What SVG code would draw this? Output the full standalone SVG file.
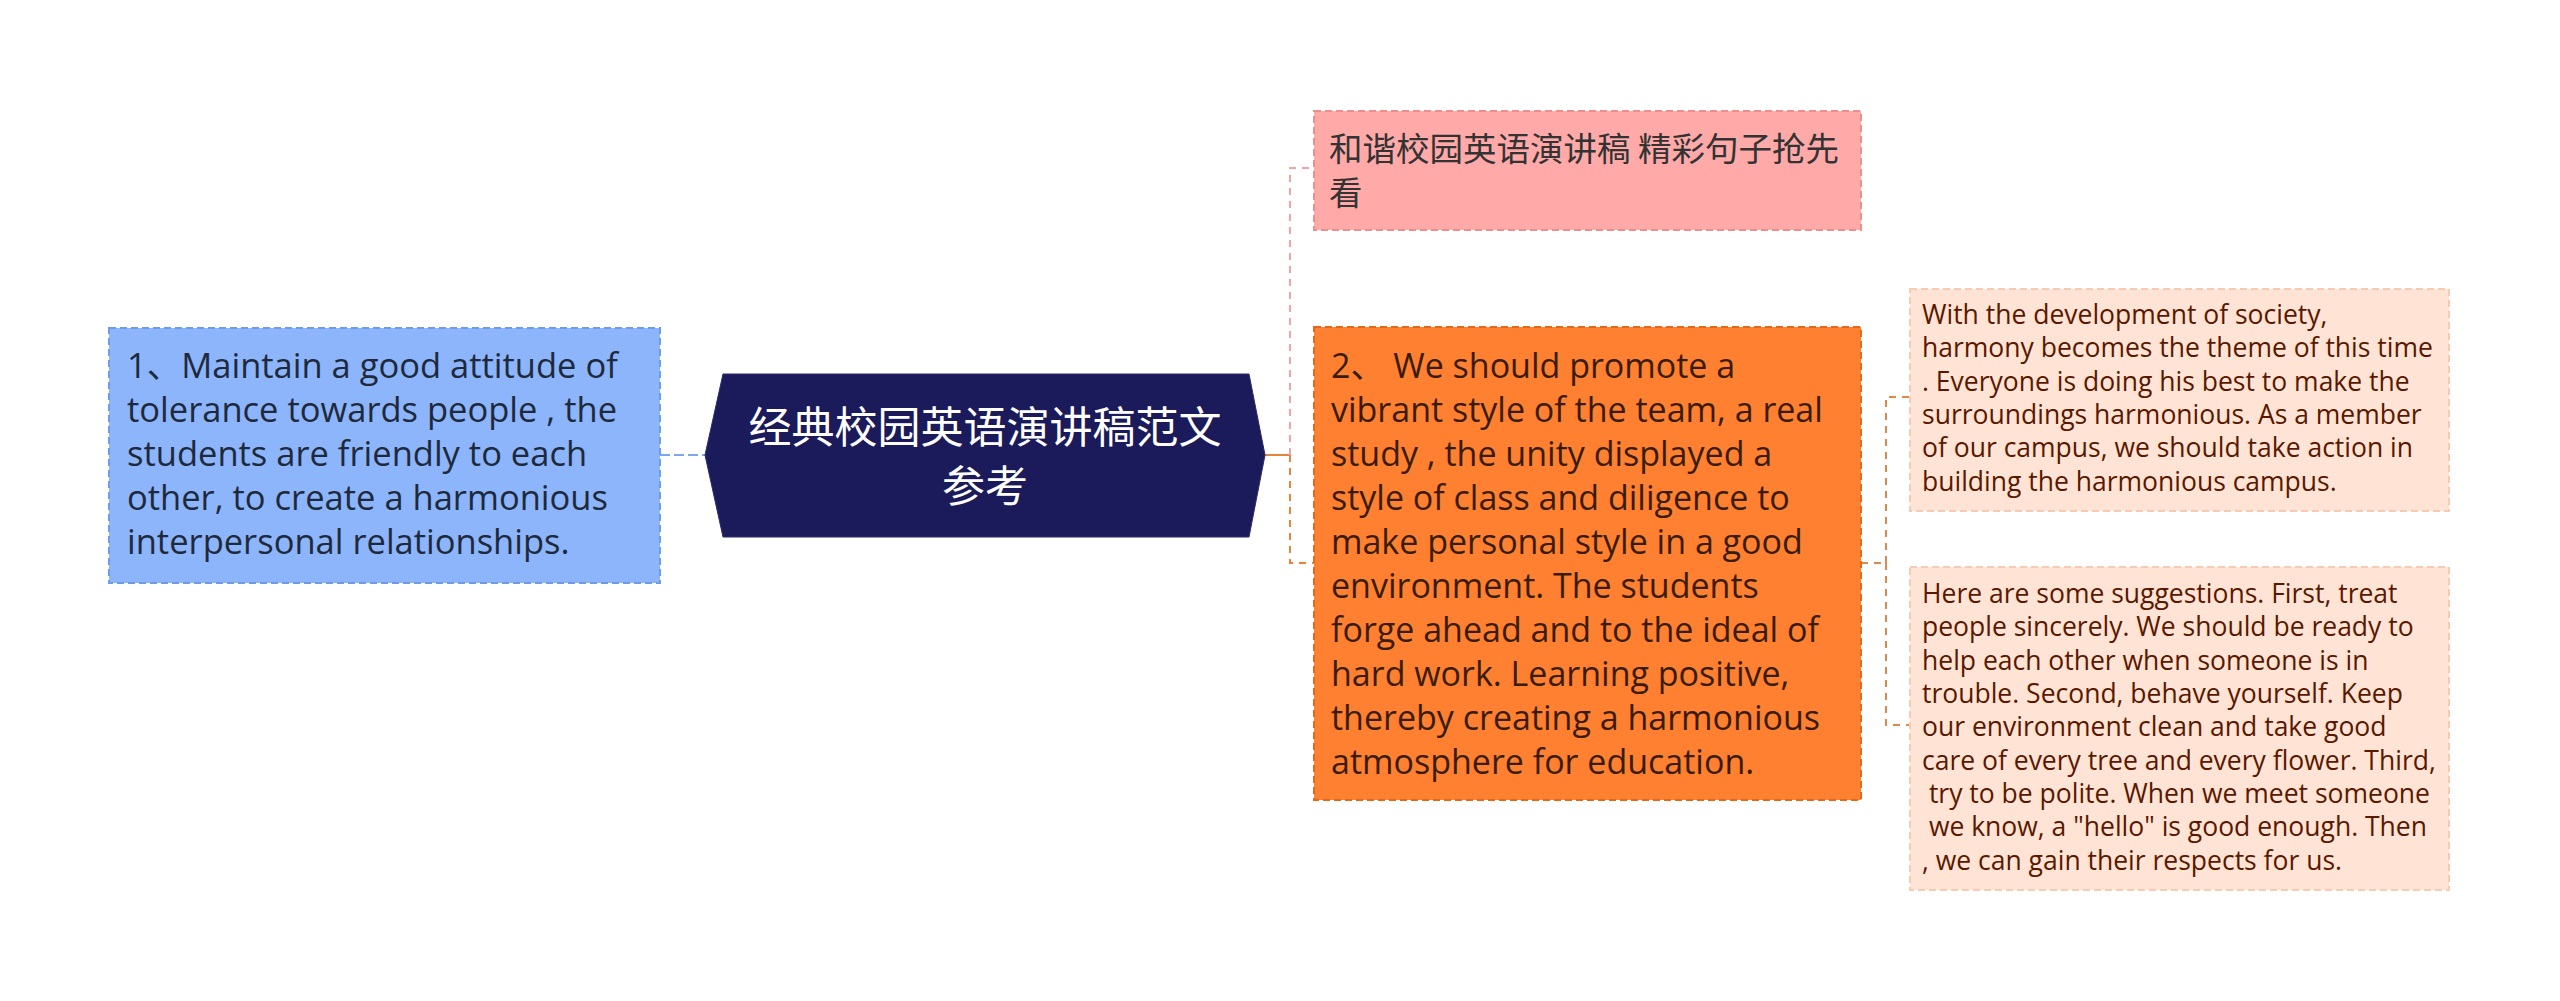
<svg xmlns="http://www.w3.org/2000/svg" width="2560" height="1001" viewBox="0 0 2560 1001">
<style>
.t{font-family:"Open Sans","Noto Sans CJK SC",sans-serif;}
.blue{fill:#8DB5FB;stroke:#6E9CEB;stroke-width:2;stroke-dasharray:7 4;}
.pink{fill:#FFA9A9;stroke:#EC8E8E;stroke-width:2;stroke-dasharray:7 4;}
.orange{fill:#FF8030;stroke:#E4671A;stroke-width:2;stroke-dasharray:7 4;}
.peach{fill:#FFE4D5;stroke:#F6CBB4;stroke-width:2;stroke-dasharray:7 4;}
.bt{font-size:34.5px;fill:#1E2A3C;}
.ot{font-size:34px;fill:#3A1C05;}
.pt{font-size:26.5px;fill:#5A1800;}
.ht{font-family:"Noto Sans CJK SC",sans-serif;font-size:43px;fill:#FFFFFF;}
.kt{font-family:"Noto Sans CJK SC",sans-serif;font-size:33.5px;fill:#333333;}
</style>
<rect width="2560" height="1001" fill="#FFFFFF"/>
<g id="connectors" fill="none" stroke-width="2">
  <path d="M660 455 H705" stroke="#7DA8EE" stroke-dasharray="10 4"/>
  <path d="M1265 455 H1290" stroke="#E8843C"/>
  <path d="M1290 455 V168 H1314" stroke="#F0A4A4" stroke-dasharray="7 6"/>
  <path d="M1290 455 V563 H1314" stroke="#E8843C" stroke-dasharray="7 6"/>
  <path d="M1861 563 H1886" stroke="#E0874A" stroke-dasharray="7 6"/>
  <path d="M1886 563 V397 H1910" stroke="#E0874A" stroke-dasharray="7 6"/>
  <path d="M1886 563 V725 H1910" stroke="#E0874A" stroke-dasharray="7 6"/>
</g>
<g id="node-left">
  <rect class="blue" x="109" y="328" width="551" height="255"/>
  <text class="t bt" x="127"><tspan x="127" y="378">1、Maintain a good attitude of</tspan><tspan x="127" y="422">tolerance towards people , the</tspan><tspan x="127" y="466">students are friendly to each</tspan><tspan x="127" y="510">other, to create a harmonious</tspan><tspan x="127" y="554">interpersonal relationships.</tspan></text>
</g>
<g id="node-root">
  <polygon points="705,455 723,374 1249,374 1265,455 1249,537 723,537" fill="#1B1A5B" stroke="#2A2A70" stroke-width="1"/>
  <text class="ht" text-anchor="middle" x="985" y="443">经典校园英语演讲稿范文</text>
  <text class="ht" text-anchor="middle" x="985" y="502">参考</text>
</g>
<g id="node-pink">
  <rect class="pink" x="1314" y="111" width="547" height="119"/>
  <text class="kt"><tspan x="1329" y="161">和谐校园英语演讲稿 精彩句子抢先</tspan><tspan x="1329" y="205">看</tspan></text>
</g>
<g id="node-orange">
  <rect class="orange" x="1314" y="327" width="547" height="473"/>
  <text class="t ot"><tspan x="1331" y="378">2、 We should promote a</tspan><tspan x="1331" y="422">vibrant style of the team, a real</tspan><tspan x="1331" y="466">study , the unity displayed a</tspan><tspan x="1331" y="510">style of class and diligence to</tspan><tspan x="1331" y="554">make personal style in a good</tspan><tspan x="1331" y="598">environment. The students</tspan><tspan x="1331" y="642">forge ahead and to the ideal of</tspan><tspan x="1331" y="686">hard work. Learning positive,</tspan><tspan x="1331" y="730">thereby creating a harmonious</tspan><tspan x="1331" y="774">atmosphere for education.</tspan></text>
</g>
<g id="node-peach-1">
  <rect class="peach" x="1910" y="289" width="539" height="222"/>
  <text class="t pt"><tspan x="1922" y="324">With the development of society,</tspan><tspan x="1922" y="357">harmony becomes the theme of this time</tspan><tspan x="1922" y="391">. Everyone is doing his best to make the</tspan><tspan x="1922" y="424">surroundings harmonious. As a member</tspan><tspan x="1922" y="457">of our campus, we should take action in</tspan><tspan x="1922" y="491">building the harmonious campus.</tspan></text>
</g>
<g id="node-peach-2">
  <rect class="peach" x="1910" y="567" width="539" height="323"/>
  <text class="t pt" xml:space="preserve"><tspan x="1922" y="603">Here are some suggestions. First, treat</tspan><tspan x="1922" y="636">people sincerely. We should be ready to</tspan><tspan x="1922" y="670">help each other when someone is in</tspan><tspan x="1922" y="703">trouble. Second, behave yourself. Keep</tspan><tspan x="1922" y="736">our environment clean and take good</tspan><tspan x="1922" y="770">care of every tree and every flower. Third,</tspan><tspan x="1922" y="803"> try to be polite. When we meet someone</tspan><tspan x="1922" y="836"> we know, a "hello" is good enough. Then</tspan><tspan x="1922" y="870">, we can gain their respects for us.</tspan></text>
</g>
</svg>
